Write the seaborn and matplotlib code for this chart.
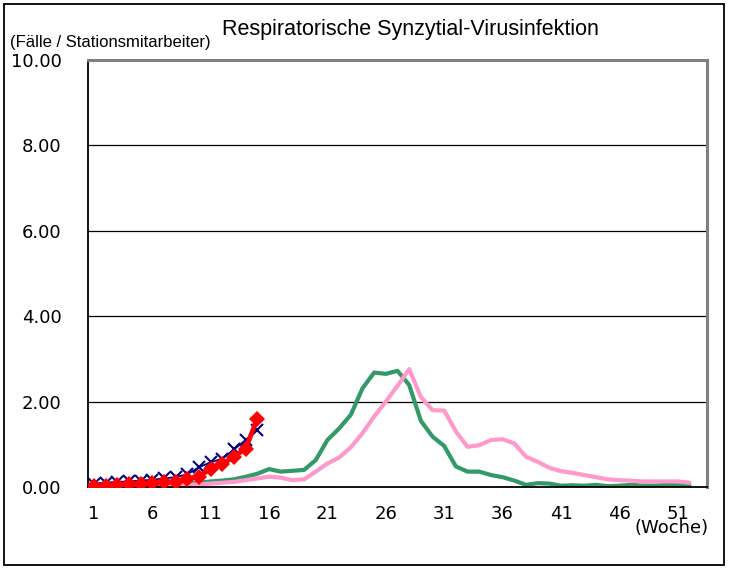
import matplotlib
matplotlib.use("Agg")
import matplotlib.pyplot as plt
from matplotlib.patches import Rectangle
import seaborn as sns

# weeks and weekly case rates (cases per ward staff)
weeks_full = list(range(1, 53))
weeks_current = list(range(1, 16))

green_rate = [0.02, 0.03, 0.04, 0.05, 0.06, 0.08, 0.08, 0.07, 0.08, 0.10,
              0.13, 0.15, 0.18, 0.24, 0.31, 0.42, 0.36, 0.38, 0.40, 0.63,
              1.10, 1.37, 1.69, 2.31, 2.68, 2.65, 2.72, 2.39, 1.55, 1.18,
              0.96, 0.48, 0.36, 0.36, 0.28, 0.23, 0.15, 0.05, 0.09, 0.08,
              0.03, 0.04, 0.03, 0.05, 0.02, 0.03, 0.05, 0.03, 0.03, 0.05,
              0.04, 0.03]
pink_rate = [0.02, 0.02, 0.02, 0.03, 0.03, 0.03, 0.04, 0.04, 0.05, 0.06,
             0.08, 0.10, 0.12, 0.16, 0.20, 0.24, 0.22, 0.16, 0.18, 0.36,
             0.55, 0.69, 0.93, 1.26, 1.65, 2.00, 2.37, 2.76, 2.11, 1.80,
             1.79, 1.30, 0.94, 0.98, 1.10, 1.12, 1.02, 0.71, 0.59, 0.45,
             0.37, 0.33, 0.28, 0.23, 0.18, 0.16, 0.15, 0.13, 0.13, 0.13,
             0.13, 0.10]
blue_rate = [0.08, 0.10, 0.12, 0.13, 0.15, 0.17, 0.20, 0.23, 0.30, 0.46,
             0.58, 0.66, 0.88, 1.10, 1.33]
red_rate = [0.03, 0.03, 0.05, 0.06, 0.07, 0.09, 0.11, 0.12, 0.19, 0.24,
            0.43, 0.54, 0.71, 0.90, 1.60]

y_ticks = [0, 2, 4, 6, 8, 10]
x_label_weeks = [1, 6, 11, 16, 21, 26, 31, 36, 41, 46, 51]

sns.set_style("white")
plt.rcParams['font.family'] = ['DejaVu Sans']
plt.rcParams['text.color'] = 'black'
plt.rcParams['xtick.color'] = 'black'
plt.rcParams['ytick.color'] = 'black'

fig = plt.figure(figsize=(7.29, 5.69), dpi=100)
ax = fig.add_axes([88 / 729, 1 - 487 / 569, (707 - 88) / 729, (487 - 60) / 569])

for yv in y_ticks[1:-1]:
    ax.axhline(yv, color='black', lw=0.9, zorder=1)

sns.lineplot(x=weeks_full, y=green_rate, ax=ax, color='#339966', lw=3.0, zorder=2)
sns.lineplot(x=weeks_full, y=pink_rate, ax=ax, color='#FF99CC', lw=3.0, zorder=2)
sns.lineplot(x=weeks_current, y=blue_rate, ax=ax, color='#000080', lw=1.3,
             marker='x', markersize=8, markeredgewidth=1.5,
             markeredgecolor='#000080', zorder=3)
sns.lineplot(x=weeks_current, y=red_rate, ax=ax, color='#FF0000', lw=3.5,
             marker='D', markersize=8.5, markeredgewidth=0, zorder=4)

ax.set_xlim(0.5, 53.5)
ax.set_ylim(0, 10)
ax.set_yticks(y_ticks)
ax.set_yticklabels([f"{v:.2f}" for v in y_ticks])
ax.set_xticks(x_label_weeks)
ax.set_xticklabels([str(w) for w in x_label_weeks])
ax.set_xticks([w - 0.5 for w in x_label_weeks[1:]], minor=True)
ax.tick_params(axis='x', which='major', length=0, pad=13, labelsize=13, labelcolor='black')
ax.tick_params(axis='x', which='minor', direction='in', length=4, width=1, color='black')
ax.tick_params(axis='y', length=0, pad=19, labelsize=13, labelcolor='black')
ax.set_xlabel('')
ax.set_ylabel('')
ax.grid(False)

for side in ['left', 'bottom']:
    ax.spines[side].set_color('black')
    ax.spines[side].set_linewidth(1.3)
for side in ['top', 'right']:
    ax.spines[side].set_color('#808080')
    ax.spines[side].set_linewidth(2.2)

fig.text(410 / 729, 1 - 29 / 569, 'Respiratorische Synzytial-Virusinfektion',
         ha='center', va='center', fontsize=15.5, family='Liberation Sans')
fig.text(10 / 729, 1 - 42 / 569, '(Fälle / Stationsmitarbeiter)',
         ha='left', va='center', fontsize=12, family='Liberation Sans')
fig.text(672 / 729, 1 - 528 / 569, '(Woche)', ha='center', va='center', fontsize=13)

fig.patches.append(Rectangle((4 / 729, 4 / 569), 720 / 729, 561 / 569,
                             transform=fig.transFigure, fill=False,
                             edgecolor='black', lw=1.3))

fig.savefig('out.png', dpi=100)
